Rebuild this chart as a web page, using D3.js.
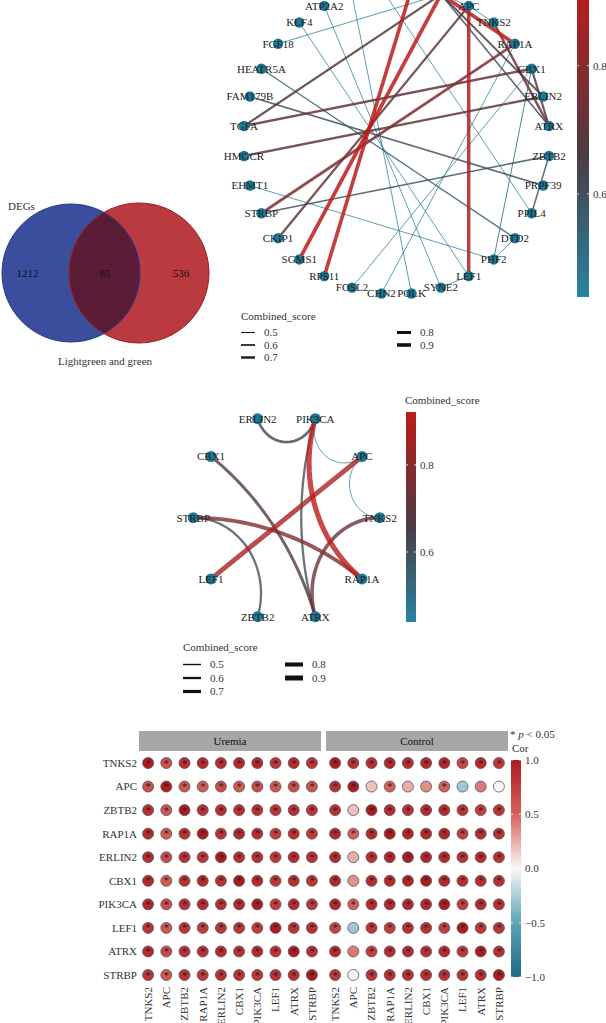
<!DOCTYPE html>
<html>
<head>
<meta charset="utf-8">
<script src="https://cdn.jsdelivr.net/npm/d3@7"></script>
<style>
  body { margin: 0; background: #fff; }
  svg { display: block; font-family: "Liberation Serif", "DejaVu Serif", serif; }
</style>
</head>
<body>
<script>
// ---- venn ----
const vennSets = ["DEGs", "Lightgreen and green"];
const vennCounts = [1212, 85, 536];   // DEGs only, shared, module only

// ---- big PPI network, clockwise from the top ----
const ppiNodes = ["CTNNB1", "PIK3CA", "APC", "TNKS2", "RAP1A", "CBX1", "ERLIN2", "ATRX",
    "ZBTB2", "PRPF39", "PPIL4", "DTD2", "PHF2", "LEF1", "SYNE2", "POLK", "CHN2", "FOSL2",
    "RPS11", "SGMS1", "CKIP1", "STRBP", "EHMT1", "HMGCR", "TGFA", "FAM179B", "HEATR5A",
    "FGF18", "KLF4", "ATP2A2", "SMAD2", "ITGB1"];
const ppiEdges = [
    ["CTNNB1", "RPS11", 0.91], ["PIK3CA", "SGMS1", 0.92], ["APC", "LEF1", 0.88],
    ["PIK3CA", "RAP1A", 0.92], ["TNKS2", "ATRX", 0.74], ["PIK3CA", "ATRX", 0.6],
    ["ERLIN2", "PIK3CA", 0.65], ["CBX1", "ATRX", 0.68], ["STRBP", "RAP1A", 0.78],
    ["STRBP", "ZBTB2", 0.6], ["PIK3CA", "APC", 0.45], ["APC", "TNKS2", 0.45],
    ["CKIP1", "APC", 0.7], ["HMGCR", "ERLIN2", 0.7], ["TGFA", "CBX1", 0.72],
    ["TGFA", "PIK3CA", 0.68], ["FAM179B", "PRPF39", 0.6], ["HEATR5A", "DTD2", 0.55],
    ["KLF4", "LEF1", 0.45], ["ATP2A2", "SYNE2", 0.45], ["SMAD2", "POLK", 0.45],
    ["ITGB1", "PPIL4", 0.45], ["FGF18", "PIK3CA", 0.46], ["CBX1", "FOSL2", 0.45],
    ["RAP1A", "CHN2", 0.45], ["CBX1", "PHF2", 0.5], ["EHMT1", "PHF2", 0.45],
    ["LEF1", "SYNE2", 0.45], ["PHF2", "DTD2", 0.45], ["ZBTB2", "PPIL4", 0.58]
];

// ---- hub gene network ----
const hubNodes = ["PIK3CA", "APC", "TNKS2", "RAP1A", "ATRX", "ZBTB2", "LEF1", "STRBP", "CBX1", "ERLIN2"];
const hubEdges = [
    ["ERLIN2", "PIK3CA", 0.65], ["PIK3CA", "APC", 0.45], ["APC", "TNKS2", 0.45],
    ["APC", "LEF1", 0.88], ["PIK3CA", "RAP1A", 0.92], ["PIK3CA", "ATRX", 0.6],
    ["CBX1", "ATRX", 0.68], ["STRBP", "RAP1A", 0.78], ["STRBP", "ZBTB2", 0.6],
    ["TNKS2", "ATRX", 0.74]
];

const scoreDomain = [0.439, 0.922];
const scoreTicks = [0.6, 0.8];
const scoreLegend = [0.5, 0.6, 0.7, 0.8, 0.9];

// ---- correlation dot plot ----
const corGenes = ["TNKS2", "APC", "ZBTB2", "RAP1A", "ERLIN2", "CBX1", "PIK3CA", "LEF1", "ATRX", "STRBP"];
const corGroups = ["Uremia", "Control"];
const corUremia = [
    [1.00, 0.62, 0.85, 0.88, 0.87, 0.90, 0.90, 0.80, 0.88, 0.82],
    [0.62, 1.00, 0.58, 0.55, 0.65, 0.55, 0.65, 0.58, 0.65, 0.58],
    [0.85, 0.58, 1.00, 0.85, 0.85, 0.85, 0.85, 0.82, 0.85, 0.82],
    [0.88, 0.55, 0.85, 1.00, 0.82, 0.90, 0.88, 0.75, 0.85, 0.78],
    [0.87, 0.65, 0.85, 0.82, 1.00, 0.85, 0.85, 0.80, 0.88, 0.85],
    [0.90, 0.55, 0.85, 0.90, 0.85, 1.00, 0.88, 0.80, 0.85, 0.82],
    [0.90, 0.65, 0.85, 0.88, 0.85, 0.88, 1.00, 0.75, 0.88, 0.80],
    [0.80, 0.58, 0.82, 0.75, 0.80, 0.80, 0.75, 1.00, 0.82, 0.85],
    [0.88, 0.65, 0.85, 0.85, 0.88, 0.85, 0.88, 0.82, 1.00, 0.85],
    [0.82, 0.58, 0.82, 0.78, 0.85, 0.82, 0.80, 0.85, 0.85, 1.00]
];
const corControl = [
    [1.00, 0.85, 0.85, 0.90, 0.88, 0.90, 0.92, 0.70, 0.90, 0.80],
    [0.85, 1.00, 0.18, 0.52, 0.25, 0.35, 0.52, -0.28, 0.42, 0.00],
    [0.85, 0.18, 1.00, 0.88, 0.85, 0.88, 0.88, 0.82, 0.75, 0.82],
    [0.90, 0.52, 0.88, 1.00, 0.92, 0.90, 0.92, 0.75, 0.88, 0.85],
    [0.88, 0.25, 0.85, 0.92, 1.00, 0.92, 0.90, 0.85, 0.88, 0.85],
    [0.90, 0.35, 0.88, 0.90, 0.92, 1.00, 0.92, 0.85, 0.85, 0.85],
    [0.92, 0.52, 0.88, 0.92, 0.90, 0.92, 1.00, 0.75, 0.88, 0.85],
    [0.70, -0.28, 0.82, 0.75, 0.85, 0.85, 0.75, 1.00, 0.80, 0.82],
    [0.90, 0.42, 0.75, 0.88, 0.88, 0.85, 0.88, 0.80, 1.00, 0.85],
    [0.80, 0.00, 0.82, 0.85, 0.85, 0.85, 0.85, 0.82, 0.85, 1.00]
];
const corSigCut = 0.5;   // |r| above this gives p < 0.05
const corTicks = [1, 0.5, 0, -0.5, -1];

const nodeColor = "#1d7894";
const scoreColor = d3.scaleLinear()
    .domain([scoreDomain[0], 0.66, scoreDomain[1]])
    .range(["#2784a0", "#4b3c43", "#bd1b1b"]);
const corColor = d3.scaleLinear()
    .domain([-1, -0.5, 0, 0.5, 1])
    .range(["#1e6b87", "#5ba3b8", "#f8f8f8", "#d6625c", "#ad1a20"]);

const svg = d3.select("body").append("svg")
    .attr("width", 606)
    .attr("height", 1023);

// circle arc orthogonal to the layout circle (ggraph circular arcs)
function arcPoints(a, b)
{
    const mx = (a[0] + b[0]) / 2, my = (a[1] + b[1]) / 2;
    const m = Math.hypot(mx, my);
    if (m < 1e-3) return [a, b];
    const half = Math.acos(Math.max(-1, Math.min(1, a[0] * b[0] + a[1] * b[1]))) / 2;
    const d = 1 / Math.cos(half), rho = Math.tan(half);
    const cx = mx / m * d, cy = my / m * d;
    const pa = Math.atan2(a[1] - cy, a[0] - cx);
    let diff = Math.atan2(b[1] - cy, b[0] - cx) - pa;
    while (diff > Math.PI) diff -= 2 * Math.PI;
    while (diff < -Math.PI) diff += 2 * Math.PI;
    return d3.range(41).map(k => [cx + rho * Math.cos(pa + diff * k / 40),
                                  cy + rho * Math.sin(pa + diff * k / 40)]);
}

function drawNetwork(g, o)
{
    const x = d3.scaleLinear().domain([-1, 1]).range(o.xRange);
    const y = d3.scaleLinear().domain([-1, 1]).range(o.yRange);
    const n = o.nodes.length;
    const pos = {};
    o.nodes.forEach((name, i) => {
        const a = (i + 0.5) * 2 * Math.PI / n;
        pos[name] = [Math.sin(a), Math.cos(a)];
    });
    const line = d3.line().x(d => x(d[0])).y(d => y(d[1]));

    g.append("g")
        .selectAll("path")
        .data(o.edges.slice().sort((a, b) => a[2] - b[2]))
        .enter()
        .append("path")
        .attr("d", d => line(o.curved ? arcPoints(pos[d[0]], pos[d[1]]) : [pos[d[0]], pos[d[1]]]))
        .attr("fill", "none")
        .attr("stroke", d => scoreColor(d[2]))
        .attr("stroke-width", d => Math.max(0.9, o.width(d[2])))
        .attr("stroke-opacity", o.opacity);

    g.append("g")
        .selectAll("circle")
        .data(o.nodes)
        .enter()
        .append("circle")
        .attr("cx", d => x(pos[d][0]))
        .attr("cy", d => y(pos[d][1]))
        .attr("r", o.nodeR)
        .attr("fill", nodeColor);

    g.append("g")
        .selectAll("text")
        .data(o.nodes)
        .enter()
        .append("text")
        .attr("x", d => x(pos[d][0]))
        .attr("y", d => y(pos[d][1]))
        .attr("dy", "0.35em")
        .attr("text-anchor", "middle")
        .attr("font-size", 11)
        .attr("fill", "#222")
        .text(d => d);
}

function drawColorbar(g, o)
{
    const y = d3.scaleLinear().domain(o.domain).range(o.yRange);
    const grad = g.append("defs").append("linearGradient")
        .attr("id", o.id)
        .attr("x1", 0).attr("x2", 0).attr("y1", 1).attr("y2", 0);
    d3.range(31).forEach(k => {
        const v = o.domain[0] + (o.domain[1] - o.domain[0]) * k / 30;
        grad.append("stop").attr("offset", k / 30).attr("stop-color", o.color(v));
    });
    g.append("rect")
        .attr("x", o.x)
        .attr("y", y(o.domain[1]))
        .attr("width", o.w)
        .attr("height", y(o.domain[0]) - y(o.domain[1]))
        .attr("fill", `url(#${o.id})`);
    const t = g.append("g").selectAll("g").data(o.ticks).enter().append("g");
    t.append("line")
        .attr("x1", o.x).attr("x2", o.x + 2)
        .attr("y1", d => y(d)).attr("y2", d => y(d))
        .attr("stroke", "#fff").attr("stroke-width", 0.8);
    t.append("line")
        .attr("x1", o.x + o.w - 2).attr("x2", o.x + o.w)
        .attr("y1", d => y(d)).attr("y2", d => y(d))
        .attr("stroke", "#fff").attr("stroke-width", 0.8);
    t.append("text")
        .attr("x", o.x + o.w + 4)
        .attr("y", d => y(d))
        .attr("dy", "0.35em")
        .attr("font-size", 11)
        .attr("fill", "#333")
        .text(o.format);
}

function drawWidthLegend(g, o)
{
    g.append("text")
        .attr("x", o.x).attr("y", o.y)
        .attr("font-size", 11).attr("fill", "#333")
        .text("Combined_score");
    const items = g.append("g").selectAll("g").data(scoreLegend).enter().append("g")
        .attr("transform", (d, i) => `translate(${o.x + (i < 3 ? 0 : o.colGap)},${o.y + o.step * (i % 3 + 1)})`);
    items.append("line")
        .attr("x1", 0).attr("x2", o.len)
        .attr("stroke", "#111")
        .attr("stroke-width", d => o.width(d));
    items.append("text")
        .attr("x", o.len + 9)
        .attr("dy", "0.35em")
        .attr("font-size", 11).attr("fill", "#333")
        .text(d => d3.format(".1f")(d));
}

function drawVenn(g)
{
    const c = [{x: 71, r: 69, fill: "#3b4d9d", stroke: "#26388a"},
               {x: 139, r: 70, fill: "#ba3a40", stroke: "#9c1f27"}];
    const cy = 273;
    g.append("defs").append("clipPath").attr("id", "vennclip")
        .append("circle").attr("cx", c[0].x).attr("cy", cy).attr("r", c[0].r);
    g.selectAll("circle.fillc").data(c).enter().append("circle")
        .attr("class", "fillc")
        .attr("cx", d => d.x).attr("cy", cy).attr("r", d => d.r)
        .attr("fill", d => d.fill);
    g.append("circle")
        .attr("cx", c[1].x).attr("cy", cy).attr("r", c[1].r)
        .attr("clip-path", "url(#vennclip)")
        .attr("fill", "#5b1d36");
    g.selectAll("circle.edge").data(c).enter().append("circle")
        .attr("class", "edge")
        .attr("cx", d => d.x).attr("cy", cy).attr("r", d => d.r)
        .attr("fill", "none").attr("stroke", d => d.stroke).attr("stroke-width", 1);
    const lx = [c[0].x - c[0].r * 0.63, (c[0].x + c[1].x) / 2, c[1].x + c[1].r * 0.6];
    g.selectAll("text.count").data(vennCounts).enter().append("text")
        .attr("class", "count")
        .attr("x", (d, i) => lx[i]).attr("y", cy + 4)
        .attr("text-anchor", "middle").attr("font-size", 11).attr("fill", "#111")
        .text(d => d);
    g.append("text").attr("x", 8).attr("y", 210)
        .attr("font-size", 11).attr("fill", "#333").text(vennSets[0]);
    g.append("text").attr("x", 105).attr("y", 365).attr("text-anchor", "middle")
        .attr("font-size", 11).attr("fill", "#333").text(vennSets[1]);
}

function drawCorr(g)
{
    const y = d3.scalePoint().domain(corGenes).range([763, 975]);
    const panels = [{name: corGroups[0], m: corUremia, range: [139, 321]},
                    {name: corGroups[1], m: corControl, range: [326, 508]}];
    panels.forEach(p => {
        const x = d3.scalePoint().domain(corGenes).range(p.range).padding(0.5);
        g.append("rect")
            .attr("x", p.range[0]).attr("y", 731)
            .attr("width", p.range[1] - p.range[0]).attr("height", 20)
            .attr("fill", "#a7a7a7");
        g.append("text")
            .attr("x", (p.range[0] + p.range[1]) / 2).attr("y", 745)
            .attr("text-anchor", "middle").attr("font-size", 11).attr("fill", "#111")
            .text(p.name);
        const cells = corGenes.flatMap((r, i) => corGenes.map((c, j) => ({r: r, c: c, v: p.m[i][j]})));
        g.append("g").selectAll("circle").data(cells).enter().append("circle")
            .attr("cx", d => x(d.c)).attr("cy", d => y(d.r)).attr("r", 5.5)
            .attr("fill", d => corColor(d.v))
            .attr("stroke", "#555").attr("stroke-width", 0.8);
        g.append("g").selectAll("text").data(cells.filter(d => Math.abs(d.v) > corSigCut)).enter()
            .append("text")
            .attr("x", d => x(d.c)).attr("y", d => y(d.r) + 3.5)
            .attr("text-anchor", "middle").attr("font-size", 10).attr("fill", "#222")
            .text("*");
        g.append("g").selectAll("text").data(corGenes).enter().append("text")
            .attr("transform", d => `translate(${x(d)},987) rotate(-90)`)
            .attr("dy", "0.35em")
            .attr("text-anchor", "end").attr("font-size", 11).attr("fill", "#333")
            .text(d => d);
    });
    g.append("g").selectAll("text").data(corGenes).enter().append("text")
        .attr("x", 137).attr("y", d => y(d)).attr("dy", "0.35em")
        .attr("text-anchor", "end").attr("font-size", 11).attr("fill", "#333")
        .text(d => d);

    const sig = g.append("text").attr("x", 510).attr("y", 738).attr("font-size", 11).attr("fill", "#333");
    sig.append("tspan").text("* ");
    sig.append("tspan").attr("font-style", "italic").text("p");
    sig.append("tspan").text(" < 0.05");
    g.append("text").attr("x", 512).attr("y", 752).attr("font-size", 11).attr("fill", "#333").text("Cor");

    drawColorbar(g, {id: "corbar", domain: [-1, 1], yRange: [977, 760], x: 511, w: 10,
        color: corColor, ticks: corTicks, format: d => d3.format(".1f")(d).replace("-", "\u2212")});
}

// big network
const net1 = svg.append("g");
drawNetwork(net1, {nodes: ppiNodes, edges: ppiEdges, curved: false,
    xRange: [243.3, 549.7], yRange: [294.2, -12.2], nodeR: 5.2, opacity: 0.85,
    width: d3.scaleLinear().domain([0.5, 0.9]).range([1, 3.6])});
drawColorbar(net1, {id: "bar1", domain: scoreDomain, yRange: [297, -12.5], x: 577, w: 12,
    color: scoreColor, ticks: scoreTicks, format: d3.format(".1f")});
drawWidthLegend(net1, {x: 241, y: 320, step: 12.5, colGap: 156, len: 14,
    width: d3.scaleLinear().domain([0.5, 0.9]).range([1, 3.6])});

drawVenn(svg.append("g"));

// hub network
const net2 = svg.append("g");
drawNetwork(net2, {nodes: hubNodes, edges: hubEdges, curved: true,
    xRange: [193.2, 379.8], yRange: [621.8, 413.6], nodeR: 5.5, opacity: 0.8,
    width: d3.scaleLinear().domain([0.5, 0.9]).range([1.4, 5])});
net2.append("text").attr("x", 405).attr("y", 404).attr("font-size", 11).attr("fill", "#333")
    .text("Combined_score");
drawColorbar(net2, {id: "bar2", domain: scoreDomain, yRange: [622, 412], x: 406, w: 10,
    color: scoreColor, ticks: scoreTicks, format: d3.format(".1f")});
drawWidthLegend(net2, {x: 183, y: 651, step: 13.5, colGap: 102, len: 18,
    width: d3.scaleLinear().domain([0.5, 0.9]).range([1.4, 5])});

drawCorr(svg.append("g"));
</script>
</body>
</html>
